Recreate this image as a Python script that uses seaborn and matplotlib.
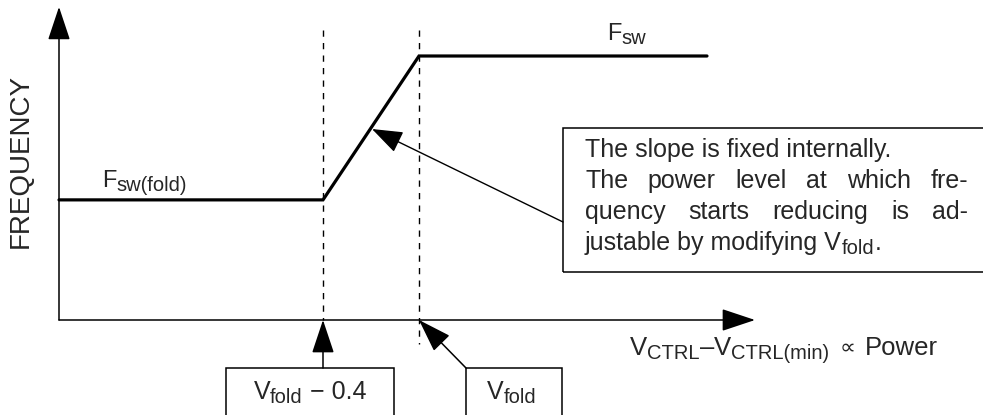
import matplotlib
matplotlib.use("Agg")
import matplotlib.pyplot as plt
import matplotlib.patches as mpatches
import seaborn as sns
import pandas as pd

# ---------------- data (schematic) ----------------
power = [0.0, 1.1, 1.5, 2.7]          # V_CTRL - V_CTRL(min)
frequency = [0.455, 0.455, 1.0, 1.0]  # normalised switching frequency
v_fold_minus = 1.1                    # V_fold - 0.4
v_fold = 1.5                          # V_fold
x_axis_end = 2.9
y_axis_end = 1.186

label_y = "FREQUENCY"
note_line1 = "The slope is fixed internally."
note_line2 = ["The", "power", "level", "at", "which", "fre-"]
note_line3 = ["quency", "starts", "reducing", "is", "ad-"]

# ---------------- style ----------------
sns.set_theme(style="white")
plt.rcParams["font.family"] = ["Liberation Sans", "DejaVu Sans"]

W, H = 983, 415
fig = plt.figure(figsize=(W / 100, H / 100), dpi=100)
ax = fig.add_axes([0, 0, 1, 1])
ax.axis("off")

# pixel <-> data mapping (origin at pixel (59, 320))
X0, XS = 59, 240.0
Y0, YS = 320, 264.0
ax.set_xlim(-X0 / XS, (W - X0) / XS)
ax.set_ylim((Y0 - H) / YS, Y0 / YS)


def dx(px):
    return (px - X0) / XS


def dy(py):
    return (Y0 - py) / YS


fig.canvas.draw()
renderer = fig.canvas.get_renderer()


def seq(x, baseline, parts, align="left"):
    """parts: list of (text, fontsize_pt, drop_px)."""
    objs = []
    cur = x
    for txt, fs, drop in parts:
        t = ax.text(dx(cur), dy(baseline + drop), txt, ha="left",
                    va="baseline", fontsize=fs)
        w = t.get_window_extent(renderer).width
        objs.append((t, cur))
        cur += w
    total = cur - x
    if align == "center":
        for t, px in objs:
            t.set_x(dx(px - total / 2))
    return total


# main curve
df = pd.DataFrame({"power": power, "frequency": frequency})
sns.lineplot(data=df, x="power", y="frequency", ax=ax, color="black",
             linewidth=2.3, sort=False, estimator=None)
ax.lines[-1].set_solid_joinstyle("miter")

# axes arrows
arrow_big = dict(arrowstyle="-|>,head_length=0.6,head_width=0.2",
                 mutation_scale=35, color="black", lw=1.1,
                 shrinkA=0, shrinkB=0)
ax.annotate("", xy=(0, y_axis_end), xytext=(0, 0), arrowprops=arrow_big)
ax.annotate("", xy=(x_axis_end, 0), xytext=(0, 0), arrowprops=arrow_big)

# dashed verticals
ax.plot([v_fold_minus, v_fold_minus], [dy(30), 0], color="black", lw=1.0,
        dashes=(4.5, 4.5))
ax.plot([v_fold, v_fold], [dy(30), dy(344)], color="black", lw=1.0,
        dashes=(4.5, 4.5))

# labels
ax.text(dx(21), dy(161), label_y, rotation=90, ha="center", va="center",
        fontsize=20)

seq(630, 355, [("V", 18.5, 0), ("CTRL", 14.5, 4), ("–", 18.5, 0),
               ("V", 18.5, 0), ("CTRL(min)", 14.5, 4), ("  ", 13, 0),
               ("∝", 16, -1), ("  ", 13, 0), ("Power", 18.5, 0)])

seq(607, 40, [("F", 17, 0), ("sw", 14.5, 4)])
seq(102, 187, [("F", 17, 0), ("sw(fold)", 14.5, 4)])

# bottom boxes
for (l, r) in [(226, 394), (466, 562)]:
    ax.add_patch(mpatches.Rectangle((dx(l), dy(430)), dx(r) - dx(l),
                                    dy(368) - dy(430), fill=False,
                                    edgecolor="black", lw=1.1, clip_on=False))
seq(310, 399, [("V", 18, 0), ("fold", 14.5, 4), (" − 0.4", 18, 0)],
    align="center")
seq(512, 399, [("V", 18, 0), ("fold", 14.5, 4)], align="center")

arrow_small = dict(arrowstyle="-|>,head_length=0.6,head_width=0.2",
                   mutation_scale=35, color="black", lw=1.1,
                   shrinkA=0, shrinkB=0)
ax.annotate("", xy=(v_fold_minus, 0), xytext=(v_fold_minus, dy(368)),
            arrowprops=arrow_small)
ax.annotate("", xy=(v_fold, 0), xytext=(dx(466), dy(368)),
            arrowprops=arrow_small)

# note box
ax.add_patch(mpatches.Rectangle((dx(563), dy(272)), dx(1000) - dx(563),
                                dy(128) - dy(272), fill=False,
                                edgecolor="black", lw=1.1, clip_on=False))
ax.annotate("", xy=(dx(372), dy(129)), xytext=(dx(563), dy(222)),
            arrowprops=dict(arrowstyle="-|>,head_length=0.55,head_width=0.2",
                            mutation_scale=35, color="black", lw=1.0,
                            shrinkA=0, shrinkB=0))

FS_NOTE = 18
LEFT, RIGHT = 585, 968
ax.text(dx(LEFT), dy(157), note_line1, ha="left", va="baseline",
        fontsize=FS_NOTE)
seq(LEFT, 250, [("justable by modifying V", FS_NOTE, 0),
                ("fold", 14.5, 4), (".", FS_NOTE, 0)])


def justify(words, baseline):
    texts = [ax.text(0, dy(baseline), w, ha="left", va="baseline",
                     fontsize=FS_NOTE) for w in words]
    widths = [t.get_window_extent(renderer).width for t in texts]
    gap = (RIGHT - LEFT - sum(widths)) / (len(words) - 1)
    x = LEFT
    for t, w in zip(texts, widths):
        t.set_x(dx(x))
        x += w + gap


justify(note_line2, 188)
justify(note_line3, 219)

fig.savefig("out.png", dpi=100)
